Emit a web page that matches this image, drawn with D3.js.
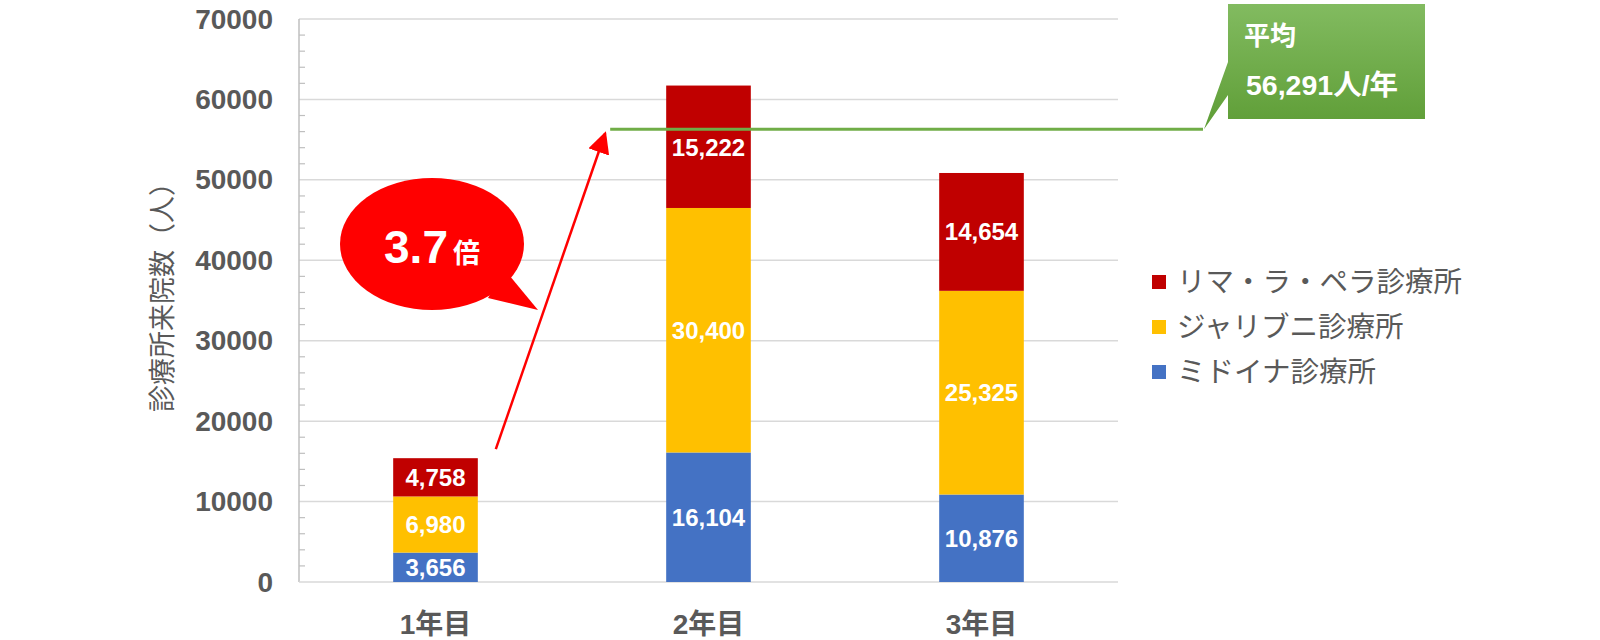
<!DOCTYPE html>
<html>
<head>
<meta charset="utf-8">
<script src="https://cdn.jsdelivr.net/npm/d3@7"></script>
<style>
  html, body { margin: 0; padding: 0; background: #fff; }
  svg { display: block; font-family: "Liberation Sans", Arial, "Noto Sans CJK JP", sans-serif; }
</style>
</head>
<body>
<svg id="chart" width="1600" height="640"></svg>
<script>
// data
const years = ["1年目", "2年目", "3年目"];
const seriesNames = ["ミドイナ診療所", "ジャリブニ診療所", "リマ・ラ・ペラ診療所"];
const midoina = [3656, 16104, 10876];
const jaribuni = [6980, 30400, 25325];
const rimaLaPera = [4758, 15222, 14654];
const yTicks = [0, 10000, 20000, 30000, 40000, 50000, 60000, 70000];
const average = 56291;
const growthLabel = "3.7";

const C = {
  red: "#c00000",
  yellow: "#ffc000",
  blue: "#4472c4",
  grid: "#d9d9d9",
  axis: "#bfbfbf",
  text: "#595959",
  green: "#70ad47",
  callout: "#ff0000"
};
const colors = [C.blue, C.yellow, C.red];

const svg = d3.select("#chart");
const M = { left: 299, right: 1118, top: 19, bottom: 582 };

const x = d3.scaleBand().domain(years).range([M.left, M.right])
  .paddingInner(0.69).paddingOuter(0.345);
const y = d3.scaleLinear().domain([0, 70000]).range([M.bottom, M.top]);

const rows = years.map((yr, i) => ({ year: yr, s0: midoina[i], s1: jaribuni[i], s2: rimaLaPera[i] }));
const stack = d3.stack().keys(["s0", "s1", "s2"])(rows);

// grid
svg.append("g").selectAll("line").data(yTicks.slice(1)).enter().append("line")
  .attr("x1", M.left).attr("x2", M.right)
  .attr("y1", d => y(d)).attr("y2", d => y(d))
  .attr("stroke", C.grid).attr("stroke-width", 1.5);

// minor ticks
svg.append("g").selectAll("line").data(d3.range(2000, 70000, 2000).filter(v => v % 10000)).enter().append("line")
  .attr("x1", M.left).attr("x2", M.left + 6)
  .attr("y1", d => y(d)).attr("y2", d => y(d))
  .attr("stroke", C.axis).attr("stroke-width", 1.2);

// axes lines
svg.append("line").attr("x1", M.left).attr("x2", M.left).attr("y1", y(70000)).attr("y2", y(0))
  .attr("stroke", C.axis).attr("stroke-width", 1.5);
svg.append("line").attr("x1", M.left).attr("x2", M.right).attr("y1", y(0)).attr("y2", y(0))
  .attr("stroke", C.grid).attr("stroke-width", 1.5);

// y tick labels
svg.append("g").selectAll("text").data(yTicks).enter().append("text")
  .attr("x", M.left - 26).attr("y", d => y(d))
  .attr("text-anchor", "end").attr("dominant-baseline", "central")
  .attr("fill", C.text).attr("font-size", "28px").attr("font-weight", "bold")
  .text(d => d);

// y title
svg.append("text")
  .attr("transform", "translate(163," + ((M.top + M.bottom) / 2 - 10) + ") rotate(-90)")
  .attr("text-anchor", "middle").attr("dominant-baseline", "central")
  .attr("fill", C.text).attr("font-size", "27px")
  .text("診療所来院数（人）");

// x labels
svg.append("g").selectAll("text").data(years).enter().append("text")
  .attr("x", d => x(d) + x.bandwidth() / 2).attr("y", 634)
  .attr("text-anchor", "middle")
  .attr("fill", C.text).attr("font-size", "28px").attr("font-weight", "bold")
  .text(d => d);

// bars
const layer = svg.append("g").selectAll("g").data(stack).enter().append("g")
  .attr("fill", (d, i) => colors[i]);
layer.selectAll("rect").data(d => d).enter().append("rect")
  .attr("x", d => x(d.data.year)).attr("width", x.bandwidth())
  .attr("y", d => y(d[1])).attr("height", d => y(d[0]) - y(d[1]));

// bar labels
const lbl = svg.append("g").selectAll("g").data(stack).enter().append("g");
lbl.selectAll("text").data(d => d).enter().append("text")
  .attr("x", d => x(d.data.year) + x.bandwidth() / 2)
  .attr("y", (d, i, n) => {
    const key = d3.select(n[i].parentNode).datum().key;
    // top segment of the tallest bar sits under the average line
    if (key === "s2" && d.data.year === years[1]) return y(d[1]) + 62;
    return (y(d[0]) + y(d[1])) / 2;
  })
  .attr("text-anchor", "middle").attr("dominant-baseline", "central")
  .attr("fill", "#fff").attr("font-size", "24px").attr("font-weight", "bold")
  .text(d => d3.format(",")(d[1] - d[0]));

// average line
const avgY = y(average);
const avgX0 = x(years[1]) - 56, avgX1 = 1203;
svg.append("line").attr("x1", avgX0).attr("x2", avgX1).attr("y1", avgY).attr("y2", avgY)
  .attr("stroke", C.green).attr("stroke-width", 3);

// average callout
const defs = svg.append("defs");
const grad = defs.append("linearGradient").attr("id", "gbox").attr("x1", 0).attr("y1", 0).attr("x2", 0).attr("y2", 1);
grad.append("stop").attr("offset", "0%").attr("stop-color", "#82bb60");
grad.append("stop").attr("offset", "100%").attr("stop-color", "#5e9d36");
const bx = 1228, bt = 4, br = 1425, bb = 119;
svg.append("path")
  .attr("d", `M${bx},${bt}H${br}V${bb}H${bx}V95L${avgX1 + 1},${avgY}L${bx},62Z`)
  .attr("fill", "url(#gbox)");
svg.append("text").attr("x", bx + 16).attr("y", 45)
  .attr("fill", "#fff").attr("font-size", "26px").attr("font-weight", "bold")
  .text("平均");
svg.append("text").attr("x", bx + 18).attr("y", 95)
  .attr("fill", "#fff").attr("font-size", "28.5px").attr("font-weight", "bold")
  .text(d3.format(",")(average) + "人/年");

// red arrow
defs.append("marker").attr("id", "arr")
  .attr("viewBox", "0 -5 10 10").attr("refX", 9).attr("refY", 0)
  .attr("markerWidth", 22).attr("markerHeight", 22).attr("markerUnits", "userSpaceOnUse")
  .attr("orient", "auto")
  .append("path").attr("d", "M0,-5L10,0L0,5Z").attr("fill", C.callout);
const total1 = midoina[0] + jaribuni[0] + rimaLaPera[0];
svg.append("line")
  .attr("x1", x(years[0]) + x.bandwidth() + 18).attr("y1", y(total1) - 9)
  .attr("x2", avgX0 - 5).attr("y2", avgY + 4)
  .attr("stroke", C.callout).attr("stroke-width", 2.5)
  .attr("marker-end", "url(#arr)");

// speech bubble
const bcx = 432, bcy = 244;
svg.append("ellipse").attr("cx", bcx).attr("cy", bcy).attr("rx", 92).attr("ry", 66).attr("fill", C.callout);
svg.append("path").attr("d", "M505,270L538,310L488,298Z").attr("fill", C.callout);
const bt2 = svg.append("text").attr("x", bcx).attr("y", 263)
  .attr("text-anchor", "middle").attr("fill", "#fff").attr("font-weight", "bold");
bt2.append("tspan").attr("font-size", "46px").text(growthLabel);
bt2.append("tspan").attr("font-size", "27px").attr("dx", 5).text("倍");

// legend
const legend = svg.append("g").selectAll("g").data([2, 1, 0]).enter().append("g")
  .attr("transform", (d, i) => "translate(1152," + (282 + i * 45) + ")");
legend.append("rect").attr("x", 0).attr("y", -7).attr("width", 14).attr("height", 14)
  .attr("fill", d => colors[d]);
legend.append("text").attr("x", 25).attr("y", 0).attr("dominant-baseline", "central")
  .attr("fill", C.text).attr("font-size", "28.5px")
  .text(d => seriesNames[d]);
</script>
</body>
</html>
